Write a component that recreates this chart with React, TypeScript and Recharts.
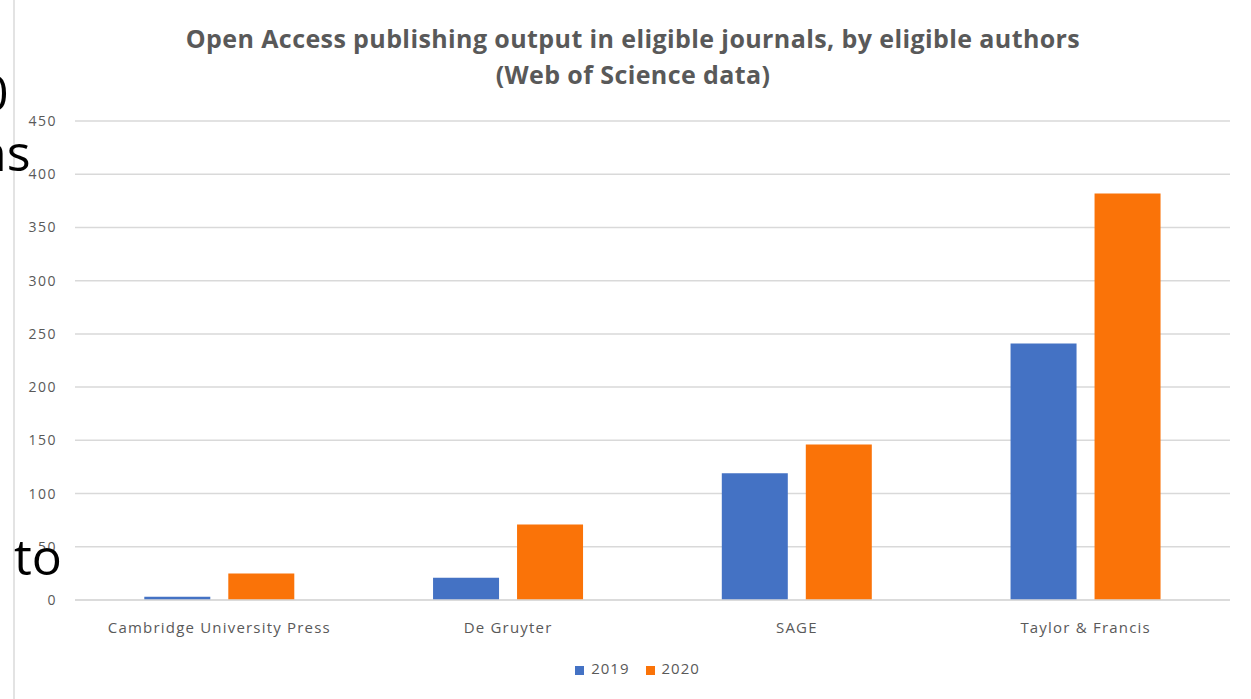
import { Bar, BarChart, CartesianGrid, Legend, XAxis, YAxis } from "recharts";

const publishers = ["Cambridge University Press", "De Gruyter", "SAGE", "Taylor & Francis"];
const output2019 = [3, 21, 119, 241];
const output2020 = [25, 71, 146, 382];
const yTicks = [0, 50, 100, 150, 200, 250, 300, 350, 400, 450];

const rows = publishers.map((name, i) => ({
  name,
  "2019": output2019[i],
  "2020": output2020[i],
}));

const gray = "#595959";
const font = "'Open Sans', sans-serif";

export default function App() {
  return (
    <div style={{ position: "absolute", left: 0, top: 0, width: 1251, height: 699, background: "#fff", overflow: "hidden" }}>
      {/* frame edge of the pasted chart */}
      <div style={{ position: "absolute", left: 13, top: 0, width: 2, height: 699, background: "#e3e3e3" }} />
      <div
        style={{
          position: "absolute",
          top: 20,
          left: 0,
          width: 1266,
          textAlign: "center",
          fontFamily: font,
          fontWeight: 700,
          fontSize: 25,
          letterSpacing: 0.4,
          lineHeight: "36px",
          color: gray,
        }}
      >
        Open Access publishing output in eligible journals, by eligible authors
        <br />
        (Web of Science data)
      </div>
      <BarChart
        width={1251}
        height={699}
        data={rows}
        margin={{ top: 121, right: 21, bottom: 21, left: 15 }}
        barCategoryGap="24%"
        barGap={18}
      >
        <CartesianGrid vertical={false} stroke="#d9d9d9" strokeWidth={1.5} />
        <XAxis
          dataKey="name"
          axisLine={{ stroke: "#d9d9d9", strokeWidth: 1.5 }}
          tickLine={false}
          tickSize={0}
          tickMargin={22}
          height={58}
          tick={{ fontSize: 15, fill: gray, fontFamily: font, letterSpacing: 1.2 }}
        />
        <YAxis
          width={60}
          domain={[0, 450]}
          ticks={yTicks}
          axisLine={false}
          tickLine={false}
          tickSize={0}
          tickMargin={18}
          tick={{ fontSize: 14, fill: gray, fontFamily: font, letterSpacing: 1.5 }}
        />
        <Legend
          verticalAlign="bottom"
          iconType="square"
          iconSize={9}
          wrapperStyle={{ left: 38 }}
          formatter={(v) => (
            <span style={{ color: gray, fontFamily: font, fontSize: 15, letterSpacing: 1, marginLeft: 3, marginRight: 6 }}>{v}</span>
          )}
        />
        <Bar dataKey="2019" fill="#4472c4" isAnimationActive={false} />
        <Bar dataKey="2020" fill="#fa7308" isAnimationActive={false} />
      </BarChart>
      {/* fragments of the slide text behind the chart */}
      <div style={{ position: "absolute", left: -20, top: 62, fontFamily: font, fontSize: 50, lineHeight: "60px", color: "#000" }}>0</div>
      <div style={{ position: "absolute", left: -24, top: 122, fontFamily: font, fontSize: 50, lineHeight: "60px", color: "#000" }}>ns</div>
      <div style={{ position: "absolute", left: 14, top: 526, fontFamily: font, fontSize: 50, lineHeight: "60px", color: "#000" }}>to</div>
    </div>
  );
}
